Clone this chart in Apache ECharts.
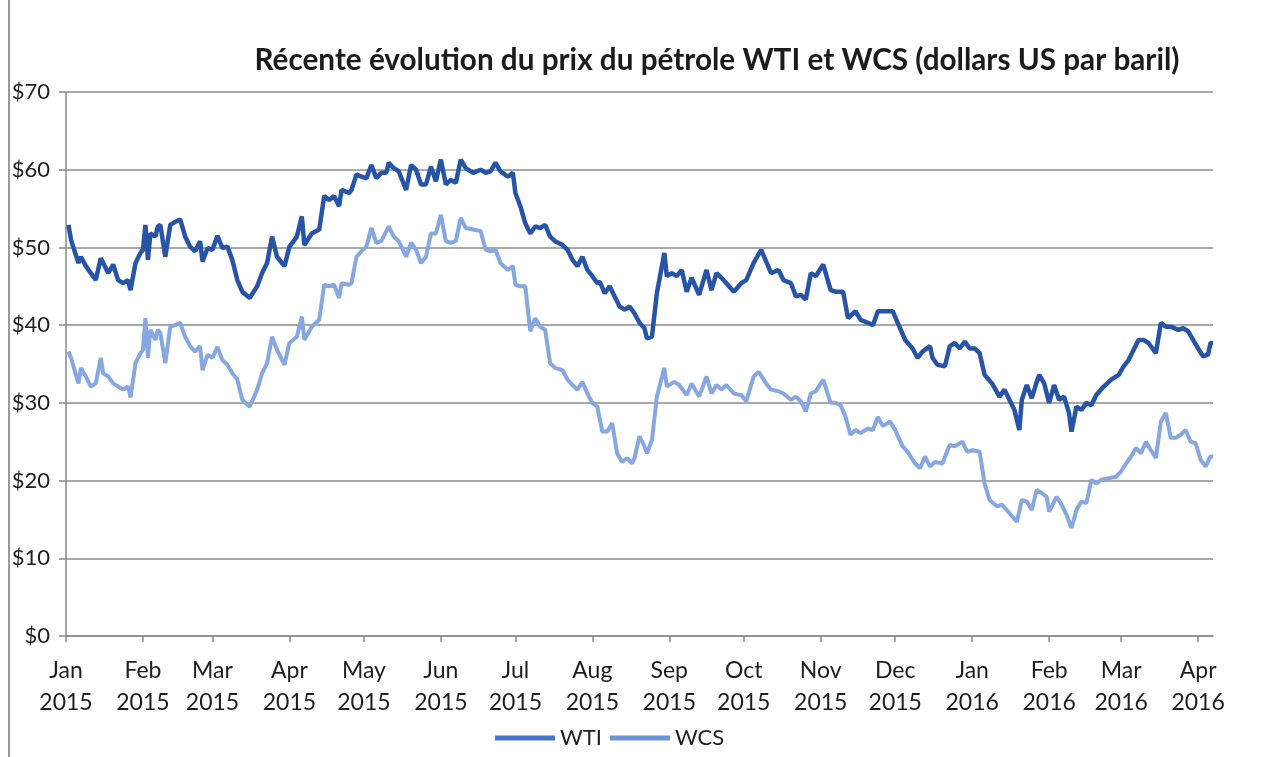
<!DOCTYPE html>
<html>
<head>
<meta charset="utf-8">
<title>WTI et WCS</title>
<script src="https://cdn.jsdelivr.net/npm/echarts@6/dist/echarts.min.js"></script>
<style>
  html, body { margin: 0; padding: 0; background: #fff; }
  #chart { width: 1263px; height: 757px; }
</style>
</head>
<body>
<div id="chart"></div>
<script>
// month names used for the x tick labels
var monthLabels = ["Jan", "Feb", "Mar", "Apr", "May", "Jun", "Jul", "Aug", "Sep", "Oct", "Nov", "Dec"];

// WTI, dollars US par baril
var wtiDates = [
  "2015-01-02","2015-01-03","2015-01-06","2015-01-07","2015-01-09","2015-01-11","2015-01-13","2015-01-15","2015-01-16","2015-01-18",
  "2015-01-20","2015-01-22","2015-01-24","2015-01-26","2015-01-27","2015-01-29","2015-01-31","2015-02-01","2015-02-02","2015-02-03",
  "2015-02-04","2015-02-06","2015-02-07","2015-02-08","2015-02-10","2015-02-12","2015-02-14","2015-02-16","2015-02-18","2015-02-20",
  "2015-02-22","2015-02-24","2015-02-25","2015-02-27","2015-03-01","2015-03-03","2015-03-05","2015-03-07","2015-03-09","2015-03-11",
  "2015-03-13","2015-03-16","2015-03-19","2015-03-21","2015-03-23","2015-03-25","2015-03-27","2015-03-30","2015-04-01","2015-04-04",
  "2015-04-06","2015-04-07","2015-04-10","2015-04-13","2015-04-15","2015-04-17","2015-04-19","2015-04-21","2015-04-22","2015-04-25",
  "2015-04-26","2015-04-28","2015-04-30","2015-05-02","2015-05-04","2015-05-06","2015-05-08","2015-05-10","2015-05-11","2015-05-13",
  "2015-05-15","2015-05-18","2015-05-20","2015-05-22","2015-05-24","2015-05-26","2015-05-28","2015-05-30","2015-06-01","2015-06-03",
  "2015-06-05","2015-06-07","2015-06-09","2015-06-11","2015-06-14","2015-06-17","2015-06-19","2015-06-21","2015-06-23","2015-06-25",
  "2015-06-28","2015-06-30","2015-07-01","2015-07-03","2015-07-05","2015-07-07","2015-07-09","2015-07-11","2015-07-13","2015-07-15",
  "2015-07-17","2015-07-20","2015-07-22","2015-07-24","2015-07-26","2015-07-28","2015-07-30","2015-08-01","2015-08-03","2015-08-04",
  "2015-08-06","2015-08-08","2015-08-10","2015-08-12","2015-08-14","2015-08-16","2015-08-18","2015-08-20","2015-08-22","2015-08-23",
  "2015-08-25","2015-08-27","2015-08-30","2015-08-31","2015-09-02","2015-09-04","2015-09-06","2015-09-08","2015-09-10","2015-09-13",
  "2015-09-16","2015-09-18","2015-09-20","2015-09-22","2015-09-24","2015-09-27","2015-09-30","2015-10-02","2015-10-05","2015-10-08",
  "2015-10-10","2015-10-12","2015-10-15","2015-10-17","2015-10-20","2015-10-22","2015-10-24","2015-10-26","2015-10-28","2015-10-30",
  "2015-11-02","2015-11-05","2015-11-07","2015-11-10","2015-11-12","2015-11-15","2015-11-17","2015-11-20","2015-11-22","2015-11-24",
  "2015-11-27","2015-11-30","2015-12-02","2015-12-05","2015-12-08","2015-12-10","2015-12-12","2015-12-15","2015-12-16","2015-12-18",
  "2015-12-21","2015-12-23","2015-12-25","2015-12-27","2015-12-29","2015-12-31","2016-01-02","2016-01-04","2016-01-06","2016-01-09",
  "2016-01-12","2016-01-14","2016-01-16","2016-01-18","2016-01-20","2016-01-21","2016-01-23","2016-01-25","2016-01-27","2016-01-28",
  "2016-01-30","2016-02-01","2016-02-03","2016-02-05","2016-02-07","2016-02-09","2016-02-10","2016-02-12","2016-02-14","2016-02-16",
  "2016-02-18","2016-02-20","2016-02-23","2016-02-26","2016-02-29","2016-03-02","2016-03-04","2016-03-06","2016-03-08","2016-03-10",
  "2016-03-12","2016-03-15","2016-03-17","2016-03-19","2016-03-21","2016-03-24","2016-03-26","2016-03-28","2016-03-30","2016-04-01",
  "2016-04-03","2016-04-05","2016-04-06","2016-04-07"
];
var wtiPrices = [
  52.9,51.0,48.0,48.8,47.6,46.7,45.8,48.6,48.0,46.7,
  47.8,45.8,45.4,45.8,44.5,48.0,49.3,49.7,52.9,48.4,
  51.8,51.4,52.7,52.9,48.8,52.9,53.3,53.6,51.4,50.1,
  49.5,50.8,48.2,49.9,49.7,51.5,49.9,50.1,48.4,45.8,
  44.3,43.5,45.0,46.7,48.0,51.4,48.8,47.6,50.1,51.4,
  54.0,50.3,51.8,52.3,56.6,56.1,56.6,55.3,57.4,57.0,
  57.4,59.4,59.1,58.9,60.6,58.9,59.6,59.6,60.9,60.2,
  59.8,57.4,60.6,60.0,58.1,58.1,60.4,58.5,61.3,58.1,
  58.7,58.3,61.3,60.2,59.6,60.0,59.6,59.8,60.9,59.8,
  59.1,59.6,57.0,55.3,53.1,51.8,52.7,52.5,52.9,51.4,
  50.8,50.3,49.7,48.4,47.6,48.8,47.1,46.3,45.4,45.6,
  44.1,45.0,43.7,42.4,42.0,42.4,41.5,40.3,39.6,38.3,
  38.5,44.1,49.3,46.3,46.7,46.3,47.1,44.3,46.1,43.9,
  47.1,44.5,46.7,46.1,45.4,44.3,45.4,45.8,48.0,49.7,
  48.2,46.7,47.1,45.8,45.4,43.7,43.9,43.3,46.7,46.3,
  47.8,44.5,44.3,44.3,40.9,41.8,40.7,40.3,40.0,41.8,
  41.8,41.8,40.3,38.1,37.0,35.8,36.6,37.3,35.8,34.9,
  34.7,37.3,37.7,37.0,37.9,37.0,37.0,36.4,33.6,32.5,
  30.8,31.7,30.4,29.1,26.5,30.4,32.3,30.6,32.7,33.6,
  32.5,30.0,32.3,30.4,30.8,28.7,26.3,29.5,29.1,30.0,
  29.7,31.0,32.1,33.0,33.6,34.7,35.5,36.8,38.1,38.1,
  37.7,36.4,40.3,39.8,39.8,39.4,39.6,39.2,38.1,37.0,
  36.0,36.2,37.7,37.7
];

// WCS, dollars US par baril
var wcsDates = [
  "2015-01-02","2015-01-03","2015-01-06","2015-01-07","2015-01-09","2015-01-11","2015-01-13","2015-01-15","2015-01-16","2015-01-18",
  "2015-01-20","2015-01-22","2015-01-24","2015-01-26","2015-01-27","2015-01-29","2015-01-31","2015-02-01","2015-02-02","2015-02-03",
  "2015-02-04","2015-02-06","2015-02-07","2015-02-08","2015-02-10","2015-02-12","2015-02-14","2015-02-16","2015-02-18","2015-02-20",
  "2015-02-22","2015-02-24","2015-02-25","2015-02-27","2015-03-01","2015-03-03","2015-03-05","2015-03-07","2015-03-09","2015-03-11",
  "2015-03-13","2015-03-16","2015-03-19","2015-03-21","2015-03-23","2015-03-25","2015-03-27","2015-03-30","2015-04-01","2015-04-04",
  "2015-04-06","2015-04-07","2015-04-10","2015-04-13","2015-04-15","2015-04-17","2015-04-19","2015-04-21","2015-04-22","2015-04-25",
  "2015-04-26","2015-04-28","2015-04-30","2015-05-02","2015-05-04","2015-05-06","2015-05-08","2015-05-11","2015-05-13","2015-05-15",
  "2015-05-18","2015-05-20","2015-05-22","2015-05-24","2015-05-26","2015-05-28","2015-05-30","2015-06-01","2015-06-03","2015-06-05",
  "2015-06-07","2015-06-09","2015-06-11","2015-06-14","2015-06-17","2015-06-19","2015-06-21","2015-06-23","2015-06-25","2015-06-28",
  "2015-06-30","2015-07-01","2015-07-03","2015-07-05","2015-07-07","2015-07-09","2015-07-11","2015-07-13","2015-07-15","2015-07-17",
  "2015-07-20","2015-07-22","2015-07-24","2015-07-26","2015-07-28","2015-07-30","2015-08-01","2015-08-03","2015-08-05","2015-08-07",
  "2015-08-09","2015-08-11","2015-08-13","2015-08-15","2015-08-17","2015-08-18","2015-08-20","2015-08-22","2015-08-23","2015-08-25",
  "2015-08-27","2015-08-30","2015-08-31","2015-09-03","2015-09-05","2015-09-08","2015-09-10","2015-09-13","2015-09-16","2015-09-18",
  "2015-09-20","2015-09-22","2015-09-24","2015-09-27","2015-09-30","2015-10-02","2015-10-05","2015-10-07","2015-10-10","2015-10-12",
  "2015-10-15","2015-10-17","2015-10-20","2015-10-22","2015-10-24","2015-10-26","2015-10-28","2015-10-30","2015-11-02","2015-11-05",
  "2015-11-07","2015-11-09","2015-11-11","2015-11-13","2015-11-15","2015-11-17","2015-11-20","2015-11-22","2015-11-24","2015-11-26",
  "2015-11-29","2015-12-01","2015-12-04","2015-12-06","2015-12-09","2015-12-11","2015-12-13","2015-12-15","2015-12-17","2015-12-20",
  "2015-12-23","2015-12-25","2015-12-28","2015-12-30","2016-01-01","2016-01-04","2016-01-06","2016-01-08","2016-01-11","2016-01-13",
  "2016-01-16","2016-01-19","2016-01-21","2016-01-23","2016-01-25","2016-01-27","2016-01-29","2016-01-31","2016-02-01","2016-02-04",
  "2016-02-06","2016-02-08","2016-02-10","2016-02-12","2016-02-14","2016-02-16","2016-02-18","2016-02-20","2016-02-22","2016-02-25",
  "2016-02-28","2016-03-01","2016-03-03","2016-03-05","2016-03-07","2016-03-09","2016-03-11","2016-03-13","2016-03-15","2016-03-17",
  "2016-03-19","2016-03-21","2016-03-23","2016-03-25","2016-03-27","2016-03-29","2016-03-31","2016-04-02","2016-04-04","2016-04-06",
  "2016-04-07"
];
var wcsPrices = [
  36.6,35.8,32.5,34.5,33.4,32.1,32.5,35.8,33.8,33.4,
  32.5,32.1,31.7,32.1,30.7,35.1,36.4,36.8,40.9,35.8,
  39.4,38.1,39.4,39.0,35.1,39.8,40.0,40.3,38.5,37.3,
  36.6,37.3,34.2,36.2,35.8,37.2,35.5,34.9,33.8,33.0,
  30.4,29.5,31.7,33.8,35.1,38.5,36.8,34.9,37.7,38.5,
  41.1,38.1,39.8,40.7,45.2,45.0,45.2,43.5,45.4,45.2,
  45.4,48.8,49.5,50.1,52.5,50.6,50.8,52.7,51.4,50.8,
  48.8,50.6,49.7,48.0,48.8,51.8,51.8,54.2,50.8,50.6,
  50.8,53.8,52.5,52.3,52.1,49.7,49.5,49.7,48.0,47.1,
  47.6,45.2,45.0,45.0,39.2,40.9,39.8,39.4,35.1,34.5,
  34.2,33.0,32.3,31.7,32.7,31.2,30.0,29.5,26.3,26.3,
  27.4,23.5,22.4,22.9,22.2,22.9,25.7,24.4,23.5,25.2,
  30.8,34.5,32.1,32.7,32.3,31.0,32.5,30.8,33.4,31.2,
  32.3,31.7,32.3,31.2,31.0,30.2,33.4,34.0,32.5,31.7,
  31.5,31.2,30.4,30.8,30.2,28.9,31.2,31.5,33.0,30.0,
  30.0,29.7,28.2,25.9,26.5,26.1,26.7,26.5,28.2,27.0,
  27.6,26.5,24.4,23.7,22.2,21.6,23.1,21.8,22.4,22.2,
  24.6,24.4,25.0,23.7,23.9,23.7,19.6,17.5,16.7,16.9,
  15.8,14.7,17.5,17.3,16.2,18.8,18.4,17.9,16.0,17.9,
  16.9,15.6,13.9,16.2,17.3,17.1,20.1,19.6,20.1,20.3,
  20.5,21.2,22.2,23.1,24.2,23.5,25.0,23.9,22.9,27.6,
  28.7,25.5,25.5,25.9,26.5,25.0,24.8,22.7,21.8,23.1,
  23.1
];

function zip(dates, values) {
  var out = [];
  for (var i = 0; i < dates.length; i++) {
    out.push([dates[i], values[i]]);
  }
  return out;
}

var chart = echarts.init(document.getElementById("chart"), null, { renderer: "canvas" });

var option = {
  backgroundColor: "#ffffff",
  animation: false,
  title: {
    text: "Récente évolution du prix du pétrole WTI et WCS (dollars US par baril)",
    left: 712,
    textAlign: "center",
    top: 40,
    textStyle: {
      fontFamily: "Lato",
      fontWeight: "bold",
      fontSize: 29.7,
      color: "#1b1b1b"
    }
  },
  grid: {
    left: 66,
    right: 50,
    top: 92,
    bottom: 121
  },
  legend: {
    top: 727,
    left: 495,
    padding: 0,
    icon: "rect",
    itemWidth: 60,
    itemHeight: 5,
    itemGap: 8,
    textStyle: {
      fontFamily: "Lato",
      fontSize: 22,
      color: "#1e1e1e"
    },
    data: [
      { name: "WTI", itemStyle: { color: "#4674c6" } },
      { name: "WCS", itemStyle: { color: "#6a92d8" } }
    ]
  },
  xAxis: {
    type: "time",
    min: new Date(2015, 0, 1).getTime(),
    max: new Date(2016, 3, 7).getTime(),
    splitNumber: 15,
    minInterval: 28 * 86400000,
    maxInterval: 31 * 86400000,
    axisLine: { lineStyle: { color: "#8a8a8a", width: 1.5 } },
    axisTick: { show: true, length: 6, lineStyle: { color: "#8a8a8a", width: 1.5 } },
    splitLine: { show: false },
    axisLabel: {
      fontFamily: "Lato",
      fontSize: 23,
      color: "#1e1e1e",
      lineHeight: 32,
      margin: 19,
      hideOverlap: false,
      formatter: function (value) {
        var d = new Date(value);
        return monthLabels[d.getMonth()] + "\n" + d.getFullYear();
      }
    }
  },
  yAxis: {
    type: "value",
    min: 0,
    max: 70,
    interval: 10,
    axisLine: { show: true, lineStyle: { color: "#8a8a8a", width: 1.5 } },
    axisTick: { show: true, length: 7, lineStyle: { color: "#8a8a8a", width: 1.5 } },
    splitLine: { lineStyle: { color: "#8c8c8c", width: 1.6 } },
    axisLabel: {
      fontFamily: "Lato",
      fontSize: 22,
      color: "#1e1e1e",
      margin: 16,
      formatter: "${value}"
    }
  },
  graphic: [
    {
      type: "line",
      shape: { x1: 9, y1: 0, x2: 9, y2: 757 },
      style: { stroke: "#9a9a9a", lineWidth: 2 }
    }
  ],
  series: [
    {
      name: "WTI",
      type: "line",
      showSymbol: false,
      color: "#2754a6",
      lineStyle: { width: 4.5, color: "#2754a6" },
      data: zip(wtiDates, wtiPrices)
    },
    {
      name: "WCS",
      type: "line",
      showSymbol: false,
      color: "#86a7df",
      lineStyle: { width: 4, color: "#86a7df" },
      data: zip(wcsDates, wcsPrices)
    }
  ]
};

chart.setOption(option);
</script>
</body>
</html>
